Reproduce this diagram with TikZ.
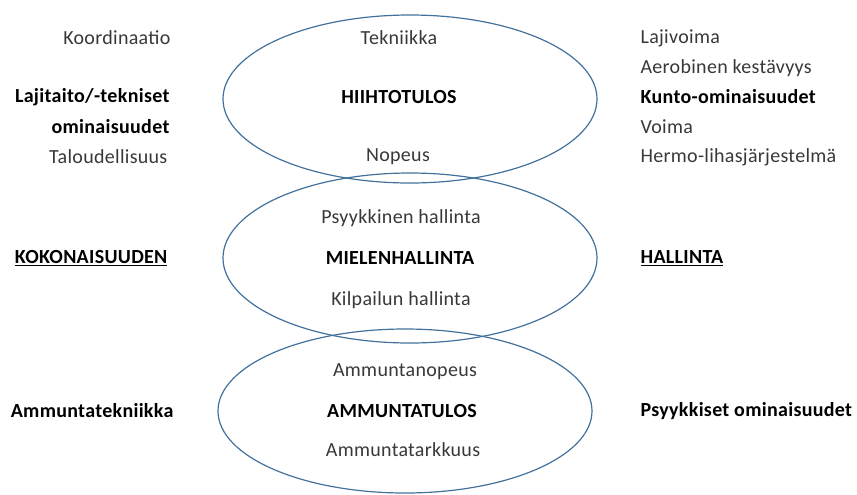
\documentclass[tikz,border=0pt]{standalone}
\usepackage{fontspec}
\setmainfont{Carlito}[LetterSpace=1.5]
\usetikzlibrary{shapes.geometric}
\definecolor{reunus}{HTML}{41719C}
\begin{document}
\begin{tikzpicture}[
    x=0.75pt, y=-0.75pt,
    font=\fontsize{15pt}{17pt}\selectfont,
    rengas/.style={ellipse, draw=reunus, line width=0.9pt, minimum width=280.5pt, inner sep=0pt},
    teksti/.style={inner sep=1pt, black!78},
    paino/.style={inner sep=1pt, black, font=\fontsize{15pt}{17pt}\selectfont\bfseries},
    vasen/.style={anchor=east},
    oikea/.style={anchor=west}
  ]
  \useasboundingbox (0,0) rectangle (857,494);

  % --- kolme rengasta ---
  \node[rengas, minimum height=126pt] (hiihto) at (410,99) {};
  \node[rengas, minimum height=127.5pt] (mieli) at (410,258) {};
  \node[rengas, minimum height=123pt] (ammunta) at (405,411) {};

  % --- renkaiden tekstit ---
  \node[teksti] (tekniikka) at (399,38) {Tekniikka};
  \node[paino]  (hiihtotulos) at (399,97) {HIIHTOTULOS};
  \node[teksti] (nopeus) at (398,157) {Nopeus};
  \node[teksti] (psyyk) at (401,218) {Psyykkinen hallinta};
  \node[paino]  (mielenhallinta) at (400,258) {MIELENHALLINTA};
  \node[teksti] (kilpailu) at (401,300) {Kilpailun hallinta};
  \node[teksti] (ampnopeus) at (405,372) {Ammuntanopeus};
  \node[paino]  (ammuntatulos) at (402,411) {AMMUNTATULOS};
  \node[teksti] (tarkkuus) at (403,450) {Ammuntatarkkuus};

  % --- vasen sarake ---
  \node[teksti, vasen] (koordinaatio) at (172,38) {Koordinaatio};
  \node[paino, vasen] (lajitaito) at (171,97) {Lajitaito/-tekniset};
  \node[paino, vasen] (ominaisuudet) at (171,127) {ominaisuudet};
  \node[teksti, vasen] (talous) at (169,157) {Taloudellisuus};
  \node[paino, vasen] (kokonaisuus) at (169,258) {\underline{KOKONAISUUDEN}};
  \node[paino, vasen] (ammtekniikka) at (175,411) {Ammuntatekniikka};

  % --- oikea sarake ---
  \foreach \nimi/\yy/\sana in {lajivoima/38/Lajivoima, aerobinen/68/Aerobinen kestävyys,
      voima/127/Voima, hermo/157/Hermo-lihasjärjestelmä}{
    \node[teksti, oikea] (\nimi) at (639,\yy) {\sana};
  }
  \node[paino, oikea] (kunto) at (639,97) {Kunto-ominaisuudet};
  \node[paino, oikea] (hallinta) at (639,258) {\underline{HALLINTA}};
  \node[paino, oikea] (psyykkiset) at (639,411) {Psyykkiset ominaisuudet};
\end{tikzpicture}
\end{document}
